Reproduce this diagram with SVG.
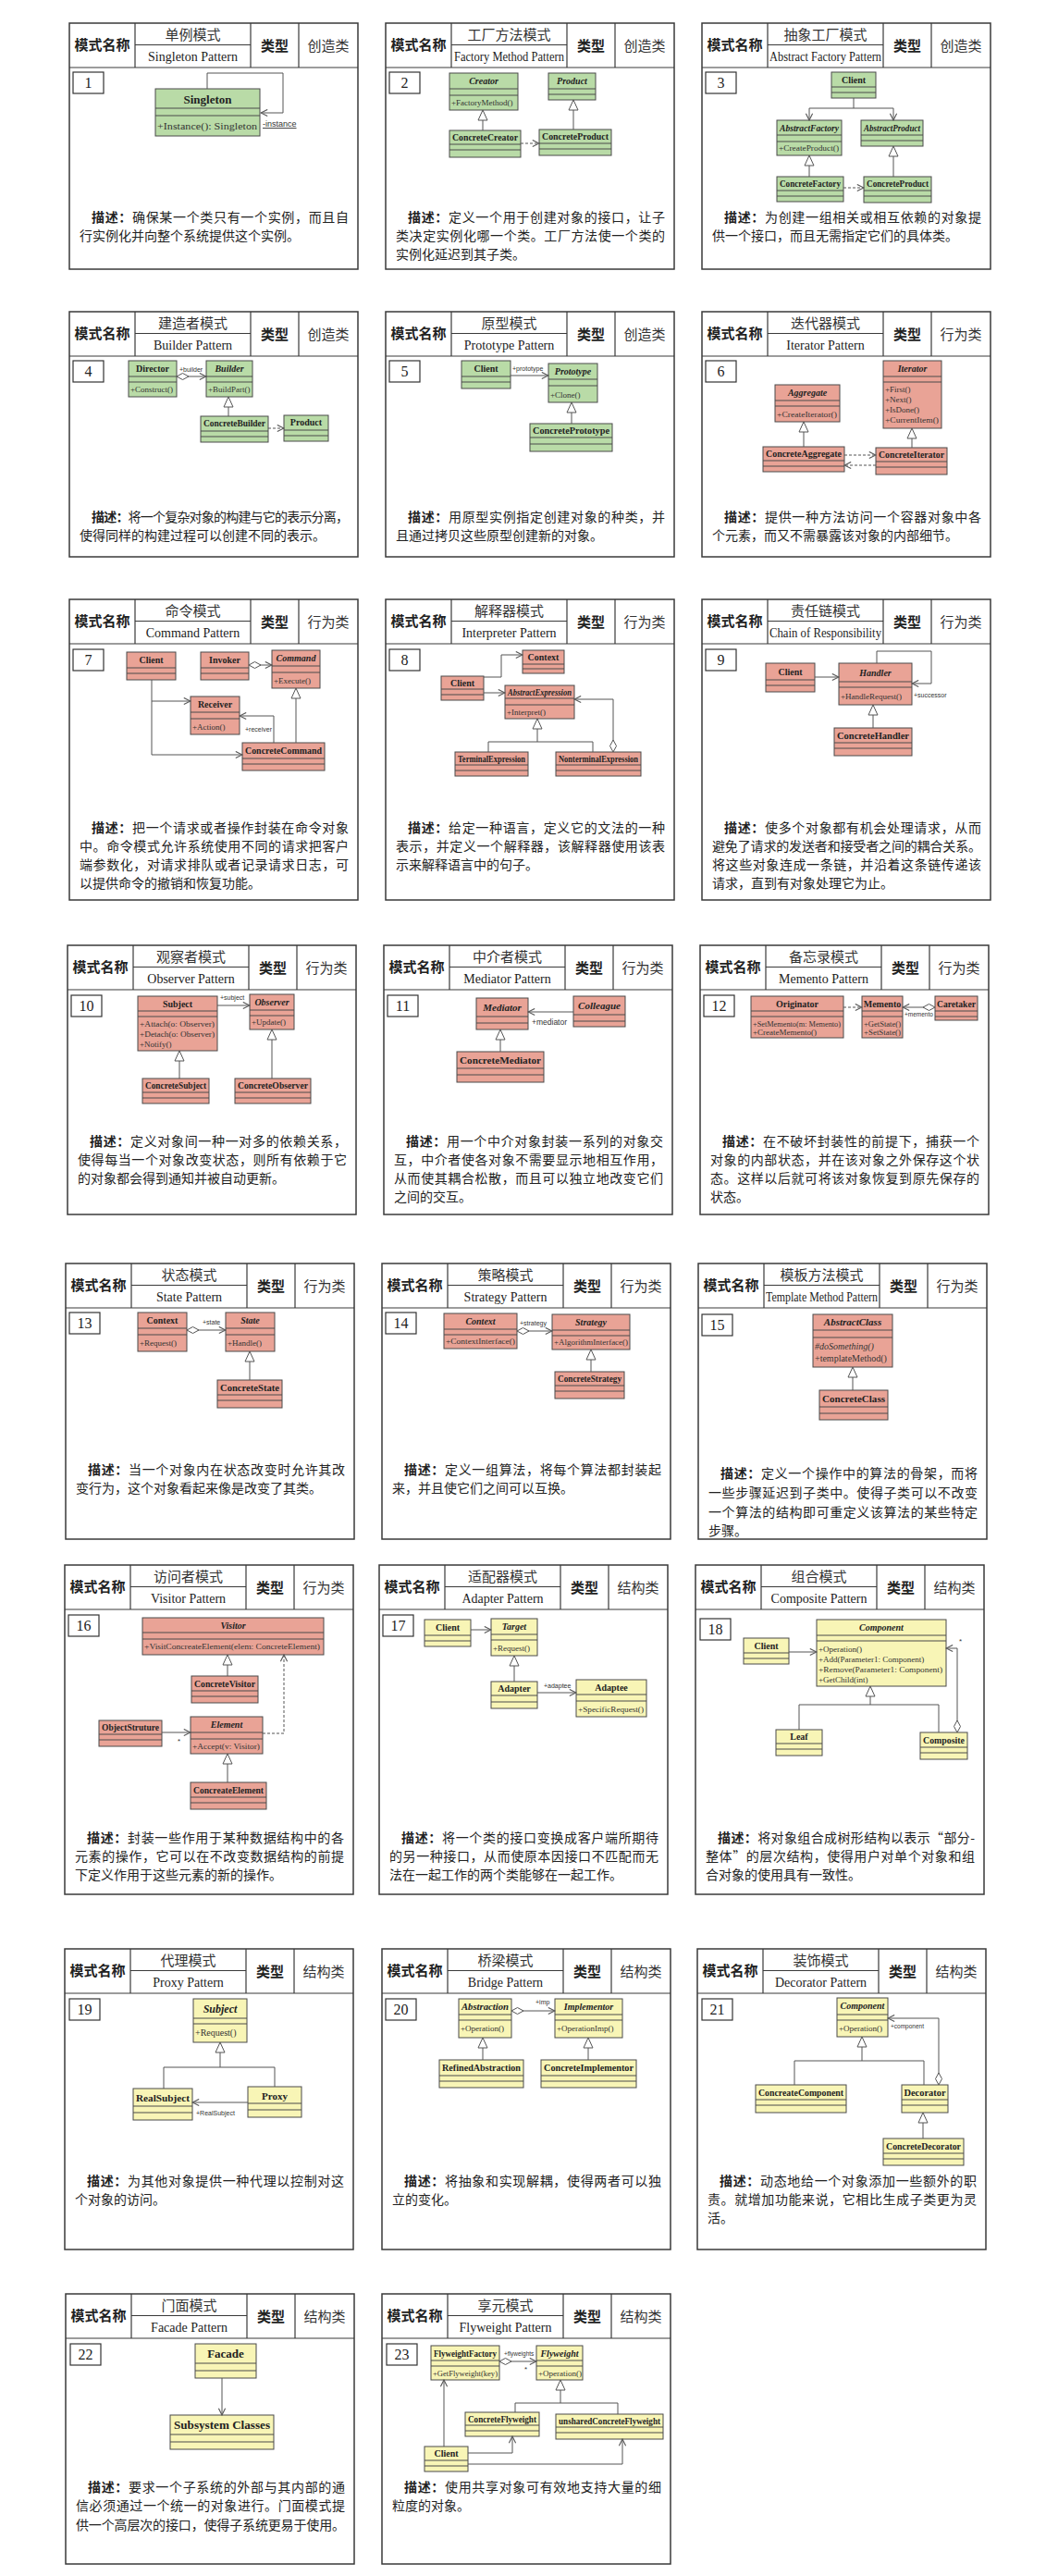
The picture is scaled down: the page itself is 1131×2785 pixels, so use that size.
<svg xmlns="http://www.w3.org/2000/svg" width="1131" height="2785" viewBox="0 0 1131 2785">
<style>
.bg{fill:#fff}
.frame{fill:#fff;stroke:#3a3a3a;stroke-width:1.5}
.hl{stroke:#3a3a3a;stroke-width:1.2;fill:none}
.hb{font-family:"Noto Sans CJK SC",sans-serif;font-size:15px;font-weight:bold;fill:#222;text-anchor:middle}
.hn{font-family:"Noto Sans CJK SC",sans-serif;font-size:15px;fill:#333;text-anchor:middle}
.he{font-family:"Liberation Serif",serif;font-size:14px;fill:#222;text-anchor:middle}
.num rect{fill:#fff;stroke:#333;stroke-width:1.2}
.num text{font-family:"Liberation Serif",serif;font-size:16px;fill:#222;text-anchor:middle}
.desc{font-family:"Noto Sans CJK SC",sans-serif;font-size:14px;fill:#222}
.k{font-weight:bold}
.cls rect{stroke:#4a4a4a;stroke-width:1}
.cls line{stroke:#4a4a4a;stroke-width:1}
.g rect{fill:#b9dba7}
.r rect{fill:#e9a396}
.y rect{fill:#f8f5b6}
.cn{font-family:"Liberation Serif",serif;font-size:10px;font-weight:bold;fill:#222;text-anchor:middle}
.ab{font-style:italic}
.op{font-family:"Liberation Serif",serif;font-size:9px;fill:#333}
.lbl{font-family:"Liberation Sans",sans-serif;font-size:7.5px;fill:#333}
.c{fill:none;stroke:#555;stroke-width:1}
.d{stroke-dasharray:3,2}
.a{marker-end:url(#arr)}
.t{marker-end:url(#tri)}
.dm{marker-start:url(#dia)}
</style>
<defs>
<marker id="arr" viewBox="0 0 10 10" refX="9" refY="5" markerWidth="9" markerHeight="9" markerUnits="userSpaceOnUse" orient="auto"><path d="M1,1 L9,5 L1,9" fill="none" stroke="#555" stroke-width="1.2"/></marker>
<marker id="tri" viewBox="0 0 13 12" refX="12" refY="6" markerWidth="13" markerHeight="12" markerUnits="userSpaceOnUse" orient="auto"><path d="M1,1 L12,6 L1,11 Z" fill="#fff" stroke="#555" stroke-width="1"/></marker>
<marker id="dia" viewBox="0 0 14 8" refX="0.5" refY="4" markerWidth="14" markerHeight="8" markerUnits="userSpaceOnUse" orient="auto"><path d="M0.5,4 L7,0.5 L13.5,4 L7,7.5 Z" fill="#fff" stroke="#555" stroke-width="1"/></marker>
</defs>
<rect class="bg" x="0" y="0" width="1131" height="2785"/>

<!-- ================= ROW 1 ================= -->
<g id="card1">
<rect class="frame" x="75" y="25" width="312" height="266"/>
<path class="hl" d="M75,73 H387 M146,25 V73 M271,25 V73 M323,25 V73 M146,48.5 H271"/>
<text class="hb" x="110.5" y="54">模式名称</text><text class="hn" x="208.5" y="43">单例模式</text><text class="he" x="208.5" y="66">Singleton Pattern</text><text class="hb" x="297" y="55">类型</text><text class="hn" x="355" y="55">创造类</text>
<g class="num"><rect x="79" y="78" width="33" height="23"/><text x="95.5" y="95">1</text></g>
<text class="desc" x="99" y="240" textLength="278"><tspan class="k">描述：</tspan>确保某一个类只有一个实例，而且自</text>
<text class="desc" x="86" y="260">行实例化并向整个系统提供这个实例。</text>
</g>
<g id="card2">
<rect class="frame" x="417" y="25" width="312" height="266"/>
<path class="hl" d="M417,73 H729 M488,25 V73 M613,25 V73 M665,25 V73 M488,48.5 H613"/>
<text class="hb" x="452.5" y="54">模式名称</text><text class="hn" x="550.5" y="43">工厂方法模式</text><text class="he" x="550.5" y="66" textLength="119" lengthAdjust="spacingAndGlyphs">Factory Method Pattern</text><text class="hb" x="639" y="55">类型</text><text class="hn" x="697" y="55">创造类</text>
<g class="num"><rect x="421" y="78" width="33" height="23"/><text x="437.5" y="95">2</text></g>
<text class="desc" x="441" y="240" textLength="278"><tspan class="k">描述：</tspan>定义一个用于创建对象的接口，让子</text>
<text class="desc" x="428" y="260" textLength="291">类决定实例化哪一个类。工厂方法使一个类的</text>
<text class="desc" x="428" y="280">实例化延迟到其子类。</text>
</g>
<g id="card3">
<rect class="frame" x="759" y="25" width="312" height="266"/>
<path class="hl" d="M759,73 H1071 M830,25 V73 M955,25 V73 M1007,25 V73 M830,48.5 H955"/>
<text class="hb" x="794.5" y="54">模式名称</text><text class="hn" x="892.5" y="43">抽象工厂模式</text><text class="he" x="892.5" y="66" textLength="121" lengthAdjust="spacingAndGlyphs">Abstract Factory Pattern</text><text class="hb" x="981" y="55">类型</text><text class="hn" x="1039" y="55">创造类</text>
<g class="num"><rect x="763" y="78" width="33" height="23"/><text x="779.5" y="95">3</text></g>
<text class="desc" x="783" y="240" textLength="278"><tspan class="k">描述：</tspan>为创建一组相关或相互依赖的对象提</text>
<text class="desc" x="770" y="260">供一个接口，而且无需指定它们的具体类。</text>
</g>

<!-- ================= ROW 2 ================= -->
<g id="card4">
<rect class="frame" x="75" y="337" width="312" height="265"/>
<path class="hl" d="M75,385 H387 M146,337 V385 M271,337 V385 M323,337 V385 M146,360.5 H271"/>
<text class="hb" x="110.5" y="366">模式名称</text><text class="hn" x="208.5" y="355">建造者模式</text><text class="he" x="208.5" y="378">Builder Pattern</text><text class="hb" x="297" y="367">类型</text><text class="hn" x="355" y="367">创造类</text>
<g class="num"><rect x="79" y="390" width="33" height="23"/><text x="95.5" y="407">4</text></g>
<text class="desc" x="99" y="564" textLength="278"><tspan class="k">描述：</tspan>将一个复杂对象的构建与它的表示分离，</text>
<text class="desc" x="86" y="584">使得同样的构建过程可以创建不同的表示。</text>
</g>
<g id="card5">
<rect class="frame" x="417" y="337" width="312" height="265"/>
<path class="hl" d="M417,385 H729 M488,337 V385 M613,337 V385 M665,337 V385 M488,360.5 H613"/>
<text class="hb" x="452.5" y="366">模式名称</text><text class="hn" x="550.5" y="355">原型模式</text><text class="he" x="550.5" y="378">Prototype Pattern</text><text class="hb" x="639" y="367">类型</text><text class="hn" x="697" y="367">创造类</text>
<g class="num"><rect x="421" y="390" width="33" height="23"/><text x="437.5" y="407">5</text></g>
<text class="desc" x="441" y="564" textLength="278"><tspan class="k">描述：</tspan>用原型实例指定创建对象的种类，并</text>
<text class="desc" x="428" y="584">且通过拷贝这些原型创建新的对象。</text>
</g>
<g id="card6">
<rect class="frame" x="759" y="337" width="312" height="265"/>
<path class="hl" d="M759,385 H1071 M830,337 V385 M955,337 V385 M1007,337 V385 M830,360.5 H955"/>
<text class="hb" x="794.5" y="366">模式名称</text><text class="hn" x="892.5" y="355">迭代器模式</text><text class="he" x="892.5" y="378">Iterator Pattern</text><text class="hb" x="981" y="367">类型</text><text class="hn" x="1039" y="367">行为类</text>
<g class="num"><rect x="763" y="390" width="33" height="23"/><text x="779.5" y="407">6</text></g>
<text class="desc" x="783" y="564" textLength="278"><tspan class="k">描述：</tspan>提供一种方法访问一个容器对象中各</text>
<text class="desc" x="770" y="584">个元素，而又不需暴露该对象的内部细节。</text>
</g>

<!-- ================= ROW 3 ================= -->
<g id="card7">
<rect class="frame" x="75" y="648" width="312" height="325"/>
<path class="hl" d="M75,696 H387 M146,648 V696 M271,648 V696 M323,648 V696 M146,671.5 H271"/>
<text class="hb" x="110.5" y="677">模式名称</text><text class="hn" x="208.5" y="666">命令模式</text><text class="he" x="208.5" y="689">Command Pattern</text><text class="hb" x="297" y="678">类型</text><text class="hn" x="355" y="678">行为类</text>
<g class="num"><rect x="79" y="702" width="33" height="23"/><text x="95.5" y="719">7</text></g>
<text class="desc" x="99" y="900" textLength="278"><tspan class="k">描述：</tspan>把一个请求或者操作封装在命令对象</text>
<text class="desc" x="86" y="920" textLength="291">中。命令模式允许系统使用不同的请求把客户</text>
<text class="desc" x="86" y="940" textLength="291">端参数化，对请求排队或者记录请求日志，可</text>
<text class="desc" x="86" y="960">以提供命令的撤销和恢复功能。</text>
</g>
<g id="card8">
<rect class="frame" x="417" y="648" width="312" height="325"/>
<path class="hl" d="M417,696 H729 M488,648 V696 M613,648 V696 M665,648 V696 M488,671.5 H613"/>
<text class="hb" x="452.5" y="677">模式名称</text><text class="hn" x="550.5" y="666">解释器模式</text><text class="he" x="550.5" y="689">Interpreter Pattern</text><text class="hb" x="639" y="678">类型</text><text class="hn" x="697" y="678">行为类</text>
<g class="num"><rect x="421" y="702" width="33" height="23"/><text x="437.5" y="719">8</text></g>
<text class="desc" x="441" y="900" textLength="278"><tspan class="k">描述：</tspan>给定一种语言，定义它的文法的一种</text>
<text class="desc" x="428" y="920" textLength="291">表示，并定义一个解释器，该解释器使用该表</text>
<text class="desc" x="428" y="940">示来解释语言中的句子。</text>
</g>
<g id="card9">
<rect class="frame" x="759" y="648" width="312" height="325"/>
<path class="hl" d="M759,696 H1071 M830,648 V696 M955,648 V696 M1007,648 V696 M830,671.5 H955"/>
<text class="hb" x="794.5" y="677">模式名称</text><text class="hn" x="892.5" y="666">责任链模式</text><text class="he" x="892.5" y="689" textLength="121" lengthAdjust="spacingAndGlyphs">Chain of Responsibility</text><text class="hb" x="981" y="678">类型</text><text class="hn" x="1039" y="678">行为类</text>
<g class="num"><rect x="763" y="702" width="33" height="23"/><text x="779.5" y="719">9</text></g>
<text class="desc" x="783" y="900" textLength="278"><tspan class="k">描述：</tspan>使多个对象都有机会处理请求，从而</text>
<text class="desc" x="770" y="920" textLength="291">避免了请求的发送者和接受者之间的耦合关系。</text>
<text class="desc" x="770" y="940" textLength="291">将这些对象连成一条链，并沿着这条链传递该</text>
<text class="desc" x="770" y="960">请求，直到有对象处理它为止。</text>
</g>

<!-- ================= ROW 4 ================= -->
<g id="card10">
<rect class="frame" x="73" y="1022" width="312" height="291"/>
<path class="hl" d="M73,1070 H385 M144,1022 V1070 M269,1022 V1070 M321,1022 V1070 M144,1045.5 H269"/>
<text class="hb" x="108.5" y="1051">模式名称</text><text class="hn" x="206.5" y="1040">观察者模式</text><text class="he" x="206.5" y="1063">Observer Pattern</text><text class="hb" x="295" y="1052">类型</text><text class="hn" x="353" y="1052">行为类</text>
<g class="num"><rect x="77" y="1076" width="33" height="23"/><text x="93.5" y="1093">10</text></g>
<text class="desc" x="97" y="1239" textLength="278"><tspan class="k">描述：</tspan>定义对象间一种一对多的依赖关系，</text>
<text class="desc" x="84" y="1259" textLength="291">使得每当一个对象改变状态，则所有依赖于它</text>
<text class="desc" x="84" y="1279">的对象都会得到通知并被自动更新。</text>
</g>
<g id="card11">
<rect class="frame" x="415" y="1022" width="312" height="291"/>
<path class="hl" d="M415,1070 H727 M486,1022 V1070 M611,1022 V1070 M663,1022 V1070 M486,1045.5 H611"/>
<text class="hb" x="450.5" y="1051">模式名称</text><text class="hn" x="548.5" y="1040">中介者模式</text><text class="he" x="548.5" y="1063">Mediator Pattern</text><text class="hb" x="637" y="1052">类型</text><text class="hn" x="695" y="1052">行为类</text>
<g class="num"><rect x="419" y="1076" width="33" height="23"/><text x="435.5" y="1093">11</text></g>
<text class="desc" x="439" y="1239" textLength="278"><tspan class="k">描述：</tspan>用一个中介对象封装一系列的对象交</text>
<text class="desc" x="426" y="1259" textLength="291">互，中介者使各对象不需要显示地相互作用，</text>
<text class="desc" x="426" y="1279" textLength="291">从而使其耦合松散，而且可以独立地改变它们</text>
<text class="desc" x="426" y="1299">之间的交互。</text>
</g>
<g id="card12">
<rect class="frame" x="757" y="1022" width="312" height="291"/>
<path class="hl" d="M757,1070 H1069 M828,1022 V1070 M953,1022 V1070 M1005,1022 V1070 M828,1045.5 H953"/>
<text class="hb" x="792.5" y="1051">模式名称</text><text class="hn" x="890.5" y="1040">备忘录模式</text><text class="he" x="890.5" y="1063">Memento Pattern</text><text class="hb" x="979" y="1052">类型</text><text class="hn" x="1037" y="1052">行为类</text>
<g class="num"><rect x="761" y="1076" width="33" height="23"/><text x="777.5" y="1093">12</text></g>
<text class="desc" x="781" y="1239" textLength="278"><tspan class="k">描述：</tspan>在不破坏封装性的前提下，捕获一个</text>
<text class="desc" x="768" y="1259" textLength="291">对象的内部状态，并在该对象之外保存这个状</text>
<text class="desc" x="768" y="1279" textLength="291">态。这样以后就可将该对象恢复到原先保存的</text>
<text class="desc" x="768" y="1299">状态。</text>
</g>

<!-- ================= ROW 5 ================= -->
<g id="card13">
<rect class="frame" x="71" y="1366" width="312" height="298"/>
<path class="hl" d="M71,1414 H383 M142,1366 V1414 M267,1366 V1414 M319,1366 V1414 M142,1389.5 H267"/>
<text class="hb" x="106.5" y="1395">模式名称</text><text class="hn" x="204.5" y="1384">状态模式</text><text class="he" x="204.5" y="1407">State Pattern</text><text class="hb" x="293" y="1396">类型</text><text class="hn" x="351" y="1396">行为类</text>
<g class="num"><rect x="75" y="1419" width="33" height="23"/><text x="91.5" y="1436">13</text></g>
<text class="desc" x="95" y="1594" textLength="278"><tspan class="k">描述：</tspan>当一个对象内在状态改变时允许其改</text>
<text class="desc" x="82" y="1614">变行为，这个对象看起来像是改变了其类。</text>
</g>
<g id="card14">
<rect class="frame" x="413" y="1366" width="312" height="298"/>
<path class="hl" d="M413,1414 H725 M484,1366 V1414 M609,1366 V1414 M661,1366 V1414 M484,1389.5 H609"/>
<text class="hb" x="448.5" y="1395">模式名称</text><text class="hn" x="546.5" y="1384">策略模式</text><text class="he" x="546.5" y="1407">Strategy Pattern</text><text class="hb" x="635" y="1396">类型</text><text class="hn" x="693" y="1396">行为类</text>
<g class="num"><rect x="417" y="1419" width="33" height="23"/><text x="433.5" y="1436">14</text></g>
<text class="desc" x="437" y="1594" textLength="278"><tspan class="k">描述：</tspan>定义一组算法，将每个算法都封装起</text>
<text class="desc" x="424" y="1614">来，并且使它们之间可以互换。</text>
</g>
<g id="card15">
<rect class="frame" x="755" y="1366" width="312" height="298"/>
<path class="hl" d="M755,1414 H1067 M826,1366 V1414 M951,1366 V1414 M1003,1366 V1414 M826,1389.5 H951"/>
<text class="hb" x="790.5" y="1395">模式名称</text><text class="hn" x="888.5" y="1384">模板方法模式</text><text class="he" x="888.5" y="1407" textLength="121" lengthAdjust="spacingAndGlyphs">Template Method Pattern</text><text class="hb" x="977" y="1396">类型</text><text class="hn" x="1035" y="1396">行为类</text>
<g class="num"><rect x="759" y="1421" width="33" height="23"/><text x="775.5" y="1438">15</text></g>
<text class="desc" x="779" y="1598" textLength="278"><tspan class="k">描述：</tspan>定义一个操作中的算法的骨架，而将</text>
<text class="desc" x="766" y="1619" textLength="291">一些步骤延迟到子类中。使得子类可以不改变</text>
<text class="desc" x="766" y="1640" textLength="291">一个算法的结构即可重定义该算法的某些特定</text>
<text class="desc" x="766" y="1660">步骤。</text>
</g>

<!-- ================= ROW 6 ================= -->
<g id="card16">
<rect class="frame" x="70" y="1692" width="312" height="356"/>
<path class="hl" d="M70,1740 H382 M141,1692 V1740 M266,1692 V1740 M318,1692 V1740 M141,1715.5 H266"/>
<text class="hb" x="105.5" y="1721">模式名称</text><text class="hn" x="203.5" y="1710">访问者模式</text><text class="he" x="203.5" y="1733">Visitor Pattern</text><text class="hb" x="292" y="1722">类型</text><text class="hn" x="350" y="1722">行为类</text>
<g class="num"><rect x="74" y="1746" width="33" height="23"/><text x="90.5" y="1763">16</text></g>
<text class="desc" x="94" y="1992" textLength="278"><tspan class="k">描述：</tspan>封装一些作用于某种数据结构中的各</text>
<text class="desc" x="81" y="2012" textLength="291">元素的操作，它可以在不改变数据结构的前提</text>
<text class="desc" x="81" y="2032">下定义作用于这些元素的新的操作。</text>
</g>
<g id="card17">
<rect class="frame" x="410" y="1692" width="312" height="356"/>
<path class="hl" d="M410,1740 H722 M481,1692 V1740 M606,1692 V1740 M658,1692 V1740 M481,1715.5 H606"/>
<text class="hb" x="445.5" y="1721">模式名称</text><text class="hn" x="543.5" y="1710">适配器模式</text><text class="he" x="543.5" y="1733">Adapter Pattern</text><text class="hb" x="632" y="1722">类型</text><text class="hn" x="690" y="1722">结构类</text>
<g class="num"><rect x="414" y="1746" width="33" height="23"/><text x="430.5" y="1763">17</text></g>
<text class="desc" x="434" y="1992" textLength="278"><tspan class="k">描述：</tspan>将一个类的接口变换成客户端所期待</text>
<text class="desc" x="421" y="2012" textLength="291">的另一种接口，从而使原本因接口不匹配而无</text>
<text class="desc" x="421" y="2032">法在一起工作的两个类能够在一起工作。</text>
</g>
<g id="card18">
<rect class="frame" x="752" y="1692" width="312" height="356"/>
<path class="hl" d="M752,1740 H1064 M823,1692 V1740 M948,1692 V1740 M1000,1692 V1740 M823,1715.5 H948"/>
<text class="hb" x="787.5" y="1721">模式名称</text><text class="hn" x="885.5" y="1710">组合模式</text><text class="he" x="885.5" y="1733">Composite Pattern</text><text class="hb" x="974" y="1722">类型</text><text class="hn" x="1032" y="1722">结构类</text>
<g class="num"><rect x="757" y="1750" width="33" height="23"/><text x="773.5" y="1767">18</text></g>
<text class="desc" x="776" y="1992" textLength="278"><tspan class="k">描述：</tspan>将对象组合成树形结构以表示“部分-</text>
<text class="desc" x="763" y="2012" textLength="291">整体”的层次结构，使得用户对单个对象和组</text>
<text class="desc" x="763" y="2032">合对象的使用具有一致性。</text>
</g>

<!-- ================= ROW 7 ================= -->
<g id="card19">
<rect class="frame" x="70" y="2107" width="312" height="325"/>
<path class="hl" d="M70,2155 H382 M141,2107 V2155 M266,2107 V2155 M318,2107 V2155 M141,2130.5 H266"/>
<text class="hb" x="105.5" y="2136">模式名称</text><text class="hn" x="203.5" y="2125">代理模式</text><text class="he" x="203.5" y="2148">Proxy Pattern</text><text class="hb" x="292" y="2137">类型</text><text class="hn" x="350" y="2137">结构类</text>
<g class="num"><rect x="75" y="2161" width="33" height="23"/><text x="91.5" y="2178">19</text></g>
<text class="desc" x="94" y="2363" textLength="278"><tspan class="k">描述：</tspan>为其他对象提供一种代理以控制对这</text>
<text class="desc" x="81" y="2383">个对象的访问。</text>
</g>
<g id="card20">
<rect class="frame" x="413" y="2107" width="312" height="325"/>
<path class="hl" d="M413,2155 H725 M484,2107 V2155 M609,2107 V2155 M661,2107 V2155 M484,2130.5 H609"/>
<text class="hb" x="448.5" y="2136">模式名称</text><text class="hn" x="546.5" y="2125">桥梁模式</text><text class="he" x="546.5" y="2148">Bridge Pattern</text><text class="hb" x="635" y="2137">类型</text><text class="hn" x="693" y="2137">结构类</text>
<g class="num"><rect x="417" y="2161" width="33" height="23"/><text x="433.5" y="2178">20</text></g>
<text class="desc" x="437" y="2363" textLength="278"><tspan class="k">描述：</tspan>将抽象和实现解耦，使得两者可以独</text>
<text class="desc" x="424" y="2383">立的变化。</text>
</g>
<g id="card21">
<rect class="frame" x="754" y="2107" width="312" height="325"/>
<path class="hl" d="M754,2155 H1066 M825,2107 V2155 M950,2107 V2155 M1002,2107 V2155 M825,2130.5 H950"/>
<text class="hb" x="789.5" y="2136">模式名称</text><text class="hn" x="887.5" y="2125">装饰模式</text><text class="he" x="887.5" y="2148">Decorator Pattern</text><text class="hb" x="976" y="2137">类型</text><text class="hn" x="1034" y="2137">结构类</text>
<g class="num"><rect x="759" y="2161" width="33" height="23"/><text x="775.5" y="2178">21</text></g>
<text class="desc" x="778" y="2363" textLength="278"><tspan class="k">描述：</tspan>动态地给一个对象添加一些额外的职</text>
<text class="desc" x="765" y="2383" textLength="291">责。就增加功能来说，它相比生成子类更为灵</text>
<text class="desc" x="765" y="2403">活。</text>
</g>

<!-- ================= ROW 8 ================= -->
<g id="card22">
<rect class="frame" x="71" y="2480" width="312" height="292"/>
<path class="hl" d="M71,2528 H383 M142,2480 V2528 M267,2480 V2528 M319,2480 V2528 M142,2503.5 H267"/>
<text class="hb" x="106.5" y="2509">模式名称</text><text class="hn" x="204.5" y="2498">门面模式</text><text class="he" x="204.5" y="2521">Facade Pattern</text><text class="hb" x="293" y="2510">类型</text><text class="hn" x="351" y="2510">结构类</text>
<g class="num"><rect x="76" y="2534" width="33" height="23"/><text x="92.5" y="2551">22</text></g>
<text class="desc" x="95" y="2694" textLength="278"><tspan class="k">描述：</tspan>要求一个子系统的外部与其内部的通</text>
<text class="desc" x="82" y="2714" textLength="291">信必须通过一个统一的对象进行。门面模式提</text>
<text class="desc" x="82" y="2735" textLength="291">供一个高层次的接口，使得子系统更易于使用。</text>
</g>
<g id="card23">
<rect class="frame" x="413" y="2480" width="312" height="292"/>
<path class="hl" d="M413,2528 H725 M484,2480 V2528 M609,2480 V2528 M661,2480 V2528 M484,2503.5 H609"/>
<text class="hb" x="448.5" y="2509">模式名称</text><text class="hn" x="546.5" y="2498">享元模式</text><text class="he" x="546.5" y="2521">Flyweight Pattern</text><text class="hb" x="635" y="2510">类型</text><text class="hn" x="693" y="2510">结构类</text>
<g class="num"><rect x="418" y="2534" width="33" height="23"/><text x="434.5" y="2551">23</text></g>
<text class="desc" x="437" y="2694" textLength="278"><tspan class="k">描述：</tspan>使用共享对象可有效地支持大量的细</text>
<text class="desc" x="424" y="2714">粒度的对象。</text>
</g>

<!-- ================= CLASS NODES ================= -->
<!-- 1 Singleton -->
<g id="n1-singleton" class="cls g"><rect x="168" y="96" width="113" height="51"/><line x1="168" y1="117" x2="281" y2="117"/><line x1="168" y1="125" x2="281" y2="125"/><text class="cn" x="224.5" y="111.5" style="font-size:13px">Singleton</text><text class="op" x="170" y="140" style="font-size:11px" textLength="108" lengthAdjust="spacingAndGlyphs">+Instance(): Singleton</text></g>
<!-- 2 Factory method -->
<g id="n2-creator" class="cls g"><rect x="486" y="79" width="74" height="40"/><line x1="486" y1="96" x2="560" y2="96"/><line x1="486" y1="103" x2="560" y2="103"/><text class="cn ab" x="523" y="91">Creator</text><text class="op" x="488" y="114">+FactoryMethod()</text></g>
<g id="n2-product" class="cls g"><rect x="593" y="79" width="51" height="29"/><line x1="593" y1="96" x2="644" y2="96"/><line x1="593" y1="102" x2="644" y2="102"/><text class="cn ab" x="618.5" y="91">Product</text></g>
<g id="n2-concretecreator" class="cls g"><rect x="486" y="141" width="77" height="29"/><line x1="486" y1="156" x2="563" y2="156"/><line x1="486" y1="162" x2="563" y2="162"/><text class="cn" x="524.5" y="152" textLength="71" lengthAdjust="spacingAndGlyphs">ConcreteCreator</text></g>
<g id="n2-concreteproduct" class="cls g"><rect x="583" y="140" width="78" height="28"/><line x1="583" y1="155" x2="661" y2="155"/><line x1="583" y1="161" x2="661" y2="161"/><text class="cn" x="622" y="151" textLength="72" lengthAdjust="spacingAndGlyphs">ConcreteProduct</text></g>
<!-- 3 Abstract factory -->
<g id="n3-client" class="cls g"><rect x="899" y="78" width="48" height="28"/><line x1="899" y1="94" x2="947" y2="94"/><line x1="899" y1="100" x2="947" y2="100"/><text class="cn" x="923" y="90">Client</text></g>
<g id="n3-abstractfactory" class="cls g"><rect x="840" y="130" width="70" height="38"/><line x1="840" y1="146" x2="910" y2="146"/><line x1="840" y1="153" x2="910" y2="153"/><text class="cn ab" x="875" y="142" textLength="64" lengthAdjust="spacingAndGlyphs">AbstractFactory</text><text class="op" x="842" y="163" textLength="65" lengthAdjust="spacingAndGlyphs">+CreateProduct()</text></g>
<g id="n3-abstractproduct" class="cls g"><rect x="931" y="130" width="67" height="28"/><line x1="931" y1="146" x2="998" y2="146"/><line x1="931" y1="152" x2="998" y2="152"/><text class="cn ab" x="964.5" y="142" textLength="61" lengthAdjust="spacingAndGlyphs">AbstractProduct</text></g>
<g id="n3-concretefactory" class="cls g"><rect x="840" y="191" width="72" height="27"/><line x1="840" y1="206" x2="912" y2="206"/><line x1="840" y1="212" x2="912" y2="212"/><text class="cn" x="876" y="202" textLength="66" lengthAdjust="spacingAndGlyphs">ConcreteFactory</text></g>
<g id="n3-concreteproduct" class="cls g"><rect x="934" y="191" width="73" height="28"/><line x1="934" y1="206" x2="1007" y2="206"/><line x1="934" y1="212" x2="1007" y2="212"/><text class="cn" x="970.5" y="202" textLength="67" lengthAdjust="spacingAndGlyphs">ConcreteProduct</text></g>
<!-- 4 Builder -->
<g id="n4-director" class="cls g"><rect x="139" y="390" width="52" height="39"/><line x1="139" y1="407" x2="191" y2="407"/><line x1="139" y1="413" x2="191" y2="413"/><text class="cn" x="165" y="402">Director</text><text class="op" x="141" y="424">+Construct()</text></g>
<g id="n4-builder" class="cls g"><rect x="223" y="390" width="50" height="39"/><line x1="223" y1="407" x2="273" y2="407"/><line x1="223" y1="413" x2="273" y2="413"/><text class="cn ab" x="248" y="402">Builder</text><text class="op" x="225" y="424">+BuildPart()</text></g>
<g id="n4-concretebuilder" class="cls g"><rect x="217" y="450" width="73" height="28"/><line x1="217" y1="466" x2="290" y2="466"/><line x1="217" y1="472" x2="290" y2="472"/><text class="cn" x="253.5" y="461" textLength="67" lengthAdjust="spacingAndGlyphs">ConcreteBuilder</text></g>
<g id="n4-product" class="cls g"><rect x="307" y="449" width="48" height="28"/><line x1="307" y1="465" x2="355" y2="465"/><line x1="307" y1="471" x2="355" y2="471"/><text class="cn" x="331" y="460">Product</text></g>
<!-- 5 Prototype -->
<g id="n5-client" class="cls g"><rect x="499" y="390" width="53" height="30"/><line x1="499" y1="407" x2="552" y2="407"/><line x1="499" y1="413" x2="552" y2="413"/><text class="cn" x="525.5" y="402">Client</text></g>
<g id="n5-prototype" class="cls g"><rect x="593" y="393" width="53" height="42"/><line x1="593" y1="410" x2="646" y2="410"/><line x1="593" y1="417" x2="646" y2="417"/><text class="cn ab" x="619.5" y="405">Prototype</text><text class="op" x="595" y="430">+Clone()</text></g>
<g id="n5-concreteprototype" class="cls g"><rect x="573" y="458" width="89" height="30"/><line x1="573" y1="473" x2="662" y2="473"/><line x1="573" y1="480" x2="662" y2="480"/><text class="cn" x="617.5" y="469" textLength="83" lengthAdjust="spacingAndGlyphs">ConcretePrototype</text></g>
<!-- 6 Iterator -->
<g id="n6-iterator" class="cls r"><rect x="955" y="390" width="63" height="73"/><line x1="955" y1="407" x2="1018" y2="407"/><line x1="955" y1="413" x2="1018" y2="413"/><text class="cn ab" x="986.5" y="402">Iterator</text><text class="op" x="957" y="424">+First()</text><text class="op" x="957" y="435">+Next()</text><text class="op" x="957" y="446">+IsDone()</text><text class="op" x="957" y="457" textLength="58" lengthAdjust="spacingAndGlyphs">+CurrentItem()</text></g>
<g id="n6-aggregate" class="cls r"><rect x="838" y="416" width="70" height="40"/><line x1="838" y1="433" x2="908" y2="433"/><line x1="838" y1="439" x2="908" y2="439"/><text class="cn ab" x="873" y="428">Aggregate</text><text class="op" x="840" y="451" textLength="65" lengthAdjust="spacingAndGlyphs">+CreateIterator()</text></g>
<g id="n6-concreteaggregate" class="cls r"><rect x="825" y="483" width="88" height="27"/><line x1="825" y1="498" x2="913" y2="498"/><line x1="825" y1="504" x2="913" y2="504"/><text class="cn" x="869" y="494" textLength="82" lengthAdjust="spacingAndGlyphs">ConcreteAggregate</text></g>
<g id="n6-concreteiterator" class="cls r"><rect x="947" y="484" width="77" height="29"/><line x1="947" y1="499" x2="1024" y2="499"/><line x1="947" y1="505" x2="1024" y2="505"/><text class="cn" x="985.5" y="495" textLength="71" lengthAdjust="spacingAndGlyphs">ConcreteIterator</text></g>
<!-- 7 Command -->
<g id="n7-client" class="cls r"><rect x="137" y="705" width="53" height="30"/><line x1="137" y1="722" x2="190" y2="722"/><line x1="137" y1="728" x2="190" y2="728"/><text class="cn" x="163.5" y="717">Client</text></g>
<g id="n7-invoker" class="cls r"><rect x="217" y="705" width="52" height="30"/><line x1="217" y1="722" x2="269" y2="722"/><line x1="217" y1="728" x2="269" y2="728"/><text class="cn" x="243" y="717">Invoker</text></g>
<g id="n7-command" class="cls r"><rect x="294" y="703" width="52" height="41"/><line x1="294" y1="720" x2="346" y2="720"/><line x1="294" y1="727" x2="346" y2="727"/><text class="cn ab" x="320" y="715">Command</text><text class="op" x="296" y="739">+Execute()</text></g>
<g id="n7-receiver" class="cls r"><rect x="206" y="753" width="53" height="41"/><line x1="206" y1="770" x2="259" y2="770"/><line x1="206" y1="777" x2="259" y2="777"/><text class="cn" x="232.5" y="765">Receiver</text><text class="op" x="208" y="789">+Action()</text></g>
<g id="n7-concretecommand" class="cls r"><rect x="262" y="803" width="89" height="30"/><line x1="262" y1="820" x2="351" y2="820"/><line x1="262" y1="826" x2="351" y2="826"/><text class="cn" x="306.5" y="815" textLength="83" lengthAdjust="spacingAndGlyphs">ConcreteCommand</text></g>
<!-- 8 Interpreter -->
<g id="n8-context" class="cls r"><rect x="565" y="703" width="45" height="25"/><line x1="565" y1="718" x2="610" y2="718"/><line x1="565" y1="723" x2="610" y2="723"/><text class="cn" x="587.5" y="714">Context</text></g>
<g id="n8-client" class="cls r"><rect x="477" y="731" width="46" height="26"/><line x1="477" y1="745" x2="523" y2="745"/><line x1="477" y1="751" x2="523" y2="751"/><text class="cn" x="500" y="742">Client</text></g>
<g id="n8-abstractexpression" class="cls r"><rect x="546" y="741" width="75" height="36"/><line x1="546" y1="755" x2="621" y2="755"/><line x1="546" y1="762" x2="621" y2="762"/><text class="cn ab" x="583.5" y="752" textLength="69" lengthAdjust="spacingAndGlyphs">AbstractExpression</text><text class="op" x="548" y="773">+Interpret()</text></g>
<g id="n8-terminalexpression" class="cls r"><rect x="492" y="813" width="79" height="26"/><line x1="492" y1="827" x2="571" y2="827"/><line x1="492" y1="833" x2="571" y2="833"/><text class="cn" x="531.5" y="824" textLength="73" lengthAdjust="spacingAndGlyphs">TerminalExpression</text></g>
<g id="n8-nonterminalexpression" class="cls r"><rect x="601" y="813" width="92" height="26"/><line x1="601" y1="827" x2="693" y2="827"/><line x1="601" y1="833" x2="693" y2="833"/><text class="cn" x="647" y="824" textLength="86" lengthAdjust="spacingAndGlyphs">NonterminalExpression</text></g>
<!-- 9 Chain -->
<g id="n9-client" class="cls r"><rect x="828" y="717" width="53" height="31"/><line x1="828" y1="735" x2="881" y2="735"/><line x1="828" y1="741" x2="881" y2="741"/><text class="cn" x="854.5" y="730">Client</text></g>
<g id="n9-handler" class="cls r"><rect x="907" y="717" width="79" height="45"/><line x1="907" y1="737" x2="986" y2="737"/><line x1="907" y1="743" x2="986" y2="743"/><text class="cn ab" x="946.5" y="731">Handler</text><text class="op" x="909" y="756">+HandleRequest()</text></g>
<g id="n9-concretehandler" class="cls r"><rect x="902" y="787" width="84" height="30"/><line x1="902" y1="803" x2="986" y2="803"/><line x1="902" y1="809" x2="986" y2="809"/><text class="cn" x="944" y="799" textLength="78" lengthAdjust="spacingAndGlyphs">ConcreteHandler</text></g>
<!-- 10 Observer -->
<g id="n10-subject" class="cls r"><rect x="149" y="1077" width="86" height="59"/><line x1="149" y1="1093" x2="235" y2="1093"/><line x1="149" y1="1099" x2="235" y2="1099"/><text class="cn" x="192" y="1089">Subject</text><text class="op" x="151" y="1110" textLength="81" lengthAdjust="spacingAndGlyphs">+Attach(o: Observer)</text><text class="op" x="151" y="1121" textLength="81" lengthAdjust="spacingAndGlyphs">+Detach(o: Observer)</text><text class="op" x="151" y="1132">+Notify()</text></g>
<g id="n10-observer" class="cls r"><rect x="270" y="1075" width="48" height="38"/><line x1="270" y1="1092" x2="318" y2="1092"/><line x1="270" y1="1098" x2="318" y2="1098"/><text class="cn ab" x="294" y="1087">Observer</text><text class="op" x="272" y="1108">+Update()</text></g>
<g id="n10-concretesubject" class="cls r"><rect x="154" y="1166" width="72" height="27"/><line x1="154" y1="1181" x2="226" y2="1181"/><line x1="154" y1="1187" x2="226" y2="1187"/><text class="cn" x="190" y="1177" textLength="66" lengthAdjust="spacingAndGlyphs">ConcreteSubject</text></g>
<g id="n10-concreteobserver" class="cls r"><rect x="254" y="1166" width="82" height="27"/><line x1="254" y1="1181" x2="336" y2="1181"/><line x1="254" y1="1187" x2="336" y2="1187"/><text class="cn" x="295" y="1177" textLength="76" lengthAdjust="spacingAndGlyphs">ConcreteObserver</text></g>
<!-- 11 Mediator -->
<g id="n11-mediator" class="cls r"><rect x="515" y="1079" width="56" height="34"/><line x1="515" y1="1099" x2="571" y2="1099"/><line x1="515" y1="1106" x2="571" y2="1106"/><text class="cn ab" x="543" y="1093" style="font-size:11px">Mediator</text></g>
<g id="n11-colleague" class="cls r"><rect x="620" y="1077" width="56" height="33"/><line x1="620" y1="1097" x2="676" y2="1097"/><line x1="620" y1="1104" x2="676" y2="1104"/><text class="cn ab" x="648" y="1091" style="font-size:11px">Colleague</text></g>
<g id="n11-concretemediator" class="cls r"><rect x="494" y="1137" width="94" height="33"/><line x1="494" y1="1155" x2="588" y2="1155"/><line x1="494" y1="1162" x2="588" y2="1162"/><text class="cn" x="541" y="1150" style="font-size:11px" textLength="88" lengthAdjust="spacingAndGlyphs">ConcreteMediator</text></g>
<!-- 12 Memento -->
<g id="n12-originator" class="cls r"><rect x="812" y="1077" width="100" height="45"/><line x1="812" y1="1093" x2="912" y2="1093"/><line x1="812" y1="1099" x2="912" y2="1099"/><text class="cn" x="862" y="1089">Originator</text><text class="op" x="814" y="1110" textLength="95" lengthAdjust="spacingAndGlyphs">+SetMemento(m: Memento)</text><text class="op" x="814" y="1119">+CreateMemento()</text></g>
<g id="n12-memento" class="cls r"><rect x="932" y="1077" width="44" height="45"/><line x1="932" y1="1093" x2="976" y2="1093"/><line x1="932" y1="1099" x2="976" y2="1099"/><text class="cn" x="954" y="1089">Memento</text><text class="op" x="934" y="1110" textLength="40" lengthAdjust="spacingAndGlyphs">+GetState()</text><text class="op" x="934" y="1119" textLength="40" lengthAdjust="spacingAndGlyphs">+SetState()</text></g>
<g id="n12-caretaker" class="cls r"><rect x="1011" y="1077" width="46" height="26"/><line x1="1011" y1="1093" x2="1057" y2="1093"/><line x1="1011" y1="1099" x2="1057" y2="1099"/><text class="cn" x="1034" y="1089" textLength="42" lengthAdjust="spacingAndGlyphs">Caretaker</text></g>
<!-- 13 State -->
<g id="n13-context" class="cls r"><rect x="149" y="1419" width="53" height="42"/><line x1="149" y1="1436" x2="202" y2="1436"/><line x1="149" y1="1443" x2="202" y2="1443"/><text class="cn" x="175.5" y="1431">Context</text><text class="op" x="151" y="1455">+Request()</text></g>
<g id="n13-state" class="cls r"><rect x="244" y="1419" width="53" height="42"/><line x1="244" y1="1436" x2="297" y2="1436"/><line x1="244" y1="1443" x2="297" y2="1443"/><text class="cn ab" x="270.5" y="1431">State</text><text class="op" x="246" y="1455">+Handle()</text></g>
<g id="n13-concretestate" class="cls r"><rect x="235" y="1492" width="70" height="30"/><line x1="235" y1="1508" x2="305" y2="1508"/><line x1="235" y1="1514" x2="305" y2="1514"/><text class="cn" x="270" y="1504" textLength="64" lengthAdjust="spacingAndGlyphs">ConcreteState</text></g>
<!-- 14 Strategy -->
<g id="n14-context" class="cls r"><rect x="480" y="1420" width="79" height="38"/><line x1="480" y1="1437" x2="559" y2="1437"/><line x1="480" y1="1443" x2="559" y2="1443"/><text class="cn ab" x="519.5" y="1432">Context</text><text class="op" x="482" y="1453" textLength="75" lengthAdjust="spacingAndGlyphs">+ContextInterface()</text></g>
<g id="n14-strategy" class="cls r"><rect x="597" y="1421" width="84" height="38"/><line x1="597" y1="1438" x2="681" y2="1438"/><line x1="597" y1="1444" x2="681" y2="1444"/><text class="cn ab" x="639" y="1433">Strategy</text><text class="op" x="599" y="1454" textLength="80" lengthAdjust="spacingAndGlyphs">+AlgorithmInterface()</text></g>
<g id="n14-concretestrategy" class="cls r"><rect x="600" y="1483" width="75" height="29"/><line x1="600" y1="1498" x2="675" y2="1498"/><line x1="600" y1="1504" x2="675" y2="1504"/><text class="cn" x="637.5" y="1494" textLength="69" lengthAdjust="spacingAndGlyphs">ConcreteStrategy</text></g>
<!-- 15 Template -->
<g id="n15-abstractclass" class="cls r"><rect x="879" y="1421" width="86" height="57"/><line x1="879" y1="1438" x2="965" y2="1438"/><line x1="879" y1="1446" x2="965" y2="1446"/><text class="cn ab" x="922" y="1433" style="font-size:11px">AbstractClass</text><text class="op ab" x="881" y="1459" style="font-size:10px">#doSomething()</text><text class="op" x="881" y="1472" style="font-size:10px">+templateMethod()</text></g>
<g id="n15-concreteclass" class="cls r"><rect x="886" y="1503" width="74" height="32"/><line x1="886" y1="1521" x2="960" y2="1521"/><line x1="886" y1="1528" x2="960" y2="1528"/><text class="cn" x="923" y="1516" style="font-size:11px" textLength="68" lengthAdjust="spacingAndGlyphs">ConcreteClass</text></g>
<!-- 16 Visitor -->
<g id="n16-visitor" class="cls r"><rect x="154" y="1749" width="196" height="40"/><line x1="154" y1="1765" x2="350" y2="1765"/><line x1="154" y1="1772" x2="350" y2="1772"/><text class="cn ab" x="252" y="1761">Visitor</text><text class="op" x="156" y="1783" textLength="190" lengthAdjust="spacingAndGlyphs">+VisitConcreateElement(elem: ConcreteElement)</text></g>
<g id="n16-concretevisitor" class="cls r"><rect x="207" y="1812" width="72" height="29"/><line x1="207" y1="1828" x2="279" y2="1828"/><line x1="207" y1="1834" x2="279" y2="1834"/><text class="cn" x="243" y="1824" textLength="66" lengthAdjust="spacingAndGlyphs">ConcreteVisitor</text></g>
<g id="n16-objectstruture" class="cls r"><rect x="107" y="1860" width="68" height="28"/><line x1="107" y1="1875" x2="175" y2="1875"/><line x1="107" y1="1881" x2="175" y2="1881"/><text class="cn" x="141" y="1871" textLength="62" lengthAdjust="spacingAndGlyphs">ObjectStruture</text></g>
<g id="n16-element" class="cls r"><rect x="206" y="1856" width="78" height="40"/><line x1="206" y1="1873" x2="284" y2="1873"/><line x1="206" y1="1880" x2="284" y2="1880"/><text class="cn ab" x="245" y="1868">Element</text><text class="op" x="208" y="1891" textLength="73" lengthAdjust="spacingAndGlyphs">+Accept(v: Visitor)</text></g>
<g id="n16-concreateelement" class="cls r"><rect x="206" y="1927" width="82" height="29"/><line x1="206" y1="1943" x2="288" y2="1943"/><line x1="206" y1="1949" x2="288" y2="1949"/><text class="cn" x="247" y="1939" textLength="76" lengthAdjust="spacingAndGlyphs">ConcreateElement</text></g>
<!-- 17 Adapter -->
<g id="n17-client" class="cls y"><rect x="459" y="1751" width="50" height="29"/><line x1="459" y1="1768" x2="509" y2="1768"/><line x1="459" y1="1774" x2="509" y2="1774"/><text class="cn" x="484" y="1763">Client</text></g>
<g id="n17-target" class="cls y"><rect x="531" y="1750" width="50" height="40"/><line x1="531" y1="1767" x2="581" y2="1767"/><line x1="531" y1="1773" x2="581" y2="1773"/><text class="cn ab" x="556" y="1762">Target</text><text class="op" x="533" y="1785">+Request()</text></g>
<g id="n17-adapter" class="cls y"><rect x="531" y="1818" width="50" height="29"/><line x1="531" y1="1833" x2="581" y2="1833"/><line x1="531" y1="1840" x2="581" y2="1840"/><text class="cn" x="556" y="1829">Adapter</text></g>
<g id="n17-adaptee" class="cls y"><rect x="623" y="1816" width="76" height="40"/><line x1="623" y1="1832" x2="699" y2="1832"/><line x1="623" y1="1839" x2="699" y2="1839"/><text class="cn" x="661" y="1828">Adaptee</text><text class="op" x="625" y="1851" textLength="71" lengthAdjust="spacingAndGlyphs">+SpecificRequest()</text></g>
<!-- 18 Composite -->
<g id="n18-component" class="cls y"><rect x="883" y="1751" width="140" height="72"/><line x1="883" y1="1768" x2="1023" y2="1768"/><line x1="883" y1="1774" x2="1023" y2="1774"/><text class="cn ab" x="953" y="1763">Component</text><text class="op" x="885" y="1786">+Operation()</text><text class="op" x="885" y="1797">+Add(Parameter1: Component)</text><text class="op" x="885" y="1808" textLength="134" lengthAdjust="spacingAndGlyphs">+Remove(Parameter1: Component)</text><text class="op" x="885" y="1819">+GetChild(int)</text></g>
<g id="n18-client" class="cls y"><rect x="804" y="1771" width="49" height="28"/><line x1="804" y1="1787" x2="853" y2="1787"/><line x1="804" y1="1793" x2="853" y2="1793"/><text class="cn" x="828.5" y="1783">Client</text></g>
<g id="n18-leaf" class="cls y"><rect x="839" y="1870" width="50" height="28"/><line x1="839" y1="1885" x2="889" y2="1885"/><line x1="839" y1="1891" x2="889" y2="1891"/><text class="cn" x="864" y="1881">Leaf</text></g>
<g id="n18-composite" class="cls y"><rect x="995" y="1873" width="51" height="29"/><line x1="995" y1="1889" x2="1046" y2="1889"/><line x1="995" y1="1895" x2="1046" y2="1895"/><text class="cn" x="1020.5" y="1885" textLength="45" lengthAdjust="spacingAndGlyphs">Composite</text></g>
<!-- 19 Proxy -->
<g id="n19-subject" class="cls y"><rect x="209" y="2161" width="58" height="47"/><line x1="209" y1="2182" x2="267" y2="2182"/><line x1="209" y1="2188" x2="267" y2="2188"/><text class="cn ab" x="238" y="2176" style="font-size:12px">Subject</text><text class="op" x="211" y="2201" style="font-size:10px">+Request()</text></g>
<g id="n19-realsubject" class="cls y"><rect x="144" y="2258" width="64" height="34"/><line x1="144" y1="2277" x2="208" y2="2277"/><line x1="144" y1="2284" x2="208" y2="2284"/><text class="cn" x="176" y="2272" style="font-size:11px" textLength="58" lengthAdjust="spacingAndGlyphs">RealSubject</text></g>
<g id="n19-proxy" class="cls y"><rect x="268" y="2256" width="58" height="33"/><line x1="268" y1="2274" x2="326" y2="2274"/><line x1="268" y1="2281" x2="326" y2="2281"/><text class="cn" x="297" y="2270" style="font-size:11px">Proxy</text></g>
<!-- 20 Bridge -->
<g id="n20-abstraction" class="cls y"><rect x="496" y="2161" width="57" height="42"/><line x1="496" y1="2178" x2="553" y2="2178"/><line x1="496" y1="2184" x2="553" y2="2184"/><text class="cn ab" x="524.5" y="2173" textLength="51" lengthAdjust="spacingAndGlyphs">Abstraction</text><text class="op" x="498" y="2196">+Operation()</text></g>
<g id="n20-implementor" class="cls y"><rect x="600" y="2161" width="73" height="42"/><line x1="600" y1="2178" x2="673" y2="2178"/><line x1="600" y1="2184" x2="673" y2="2184"/><text class="cn ab" x="636.5" y="2173">Implementor</text><text class="op" x="602" y="2196">+OperationImp()</text></g>
<g id="n20-refinedabstraction" class="cls y"><rect x="475" y="2227" width="91" height="30"/><line x1="475" y1="2244" x2="566" y2="2244"/><line x1="475" y1="2250" x2="566" y2="2250"/><text class="cn" x="520.5" y="2239" textLength="85" lengthAdjust="spacingAndGlyphs">RefinedAbstraction</text></g>
<g id="n20-concreteimplementor" class="cls y"><rect x="585" y="2227" width="103" height="30"/><line x1="585" y1="2244" x2="688" y2="2244"/><line x1="585" y1="2250" x2="688" y2="2250"/><text class="cn" x="636.5" y="2239" textLength="97" lengthAdjust="spacingAndGlyphs">ConcreteImplementor</text></g>
<!-- 21 Decorator -->
<g id="n21-component" class="cls y"><rect x="905" y="2160" width="55" height="42"/><line x1="905" y1="2178" x2="960" y2="2178"/><line x1="905" y1="2184" x2="960" y2="2184"/><text class="cn ab" x="932.5" y="2172">Component</text><text class="op" x="907" y="2196">+Operation()</text></g>
<g id="n21-concreatecomponent" class="cls y"><rect x="817" y="2254" width="98" height="30"/><line x1="817" y1="2270" x2="915" y2="2270"/><line x1="817" y1="2276" x2="915" y2="2276"/><text class="cn" x="866" y="2266" textLength="92" lengthAdjust="spacingAndGlyphs">ConcreateComponent</text></g>
<g id="n21-decorator" class="cls y"><rect x="975" y="2254" width="50" height="30"/><line x1="975" y1="2270" x2="1025" y2="2270"/><line x1="975" y1="2276" x2="1025" y2="2276"/><text class="cn" x="1000" y="2266" textLength="45" lengthAdjust="spacingAndGlyphs">Decorator</text></g>
<g id="n21-concretedecorator" class="cls y"><rect x="955" y="2312" width="87" height="29"/><line x1="955" y1="2328" x2="1042" y2="2328"/><line x1="955" y1="2334" x2="1042" y2="2334"/><text class="cn" x="998.5" y="2324" textLength="81" lengthAdjust="spacingAndGlyphs">ConcreteDecorator</text></g>
<!-- 22 Facade -->
<g id="n22-facade" class="cls y"><rect x="211" y="2534" width="66" height="37"/><line x1="211" y1="2555" x2="277" y2="2555"/><line x1="211" y1="2563" x2="277" y2="2563"/><text class="cn" x="244" y="2549" style="font-size:13px">Facade</text></g>
<g id="n22-subsystem" class="cls y"><rect x="184" y="2611" width="112" height="37"/><line x1="184" y1="2632" x2="296" y2="2632"/><line x1="184" y1="2640" x2="296" y2="2640"/><text class="cn" x="240" y="2626" style="font-size:13px" textLength="104" lengthAdjust="spacingAndGlyphs">Subsystem Classes</text></g>
<!-- 23 Flyweight -->
<g id="n23-flyweightfactory" class="cls y"><rect x="466" y="2536" width="74" height="37"/><line x1="466" y1="2552" x2="540" y2="2552"/><line x1="466" y1="2558" x2="540" y2="2558"/><text class="cn" x="503" y="2548" textLength="68" lengthAdjust="spacingAndGlyphs">FlyweightFactory</text><text class="op" x="468" y="2569" textLength="70" lengthAdjust="spacingAndGlyphs">+GetFlyweight(key)</text></g>
<g id="n23-flyweight" class="cls y"><rect x="580" y="2536" width="50" height="37"/><line x1="580" y1="2552" x2="630" y2="2552"/><line x1="580" y1="2558" x2="630" y2="2558"/><text class="cn ab" x="605" y="2548">Flyweight</text><text class="op" x="582" y="2569">+Operation()</text></g>
<g id="n23-concreteflyweight" class="cls y"><rect x="503" y="2608" width="80" height="26"/><line x1="503" y1="2622" x2="583" y2="2622"/><line x1="503" y1="2628" x2="583" y2="2628"/><text class="cn" x="543" y="2619" textLength="74" lengthAdjust="spacingAndGlyphs">ConcreteFlyweight</text></g>
<g id="n23-unsharedconcreteflyweight" class="cls y"><rect x="601" y="2610" width="116" height="27"/><line x1="601" y1="2624" x2="717" y2="2624"/><line x1="601" y1="2630" x2="717" y2="2630"/><text class="cn" x="659" y="2621" textLength="110" lengthAdjust="spacingAndGlyphs">unsharedConcreteFlyweight</text></g>
<g id="n23-client" class="cls y"><rect x="459" y="2645" width="47" height="27"/><line x1="459" y1="2660" x2="506" y2="2660"/><line x1="459" y1="2666" x2="506" y2="2666"/><text class="cn" x="482.5" y="2656">Client</text></g>

<!-- ================= CONNECTORS ================= -->
<g id="connectors">
<!-- 1 -->
<path class="c a" d="M224,96 V79 H306 V122 H282"/>
<text class="lbl" x="284" y="137" style="font-size:9px;text-decoration:underline">-instance</text>
<!-- 2 -->
<path class="c t" d="M522,141 V119"/>
<path class="c t" d="M620,140 V108"/>
<path class="c d a" d="M563,155 H583"/>
<!-- 3 -->
<path class="c a" d="M923,106 V117 H875 V130"/>
<path class="c a" d="M923,117 H966 V130"/>
<path class="c t" d="M875,191 V168"/>
<path class="c t" d="M966,191 V158"/>
<path class="c d a" d="M912,203 H934"/>
<!-- 4 -->
<path class="c dm a" d="M191,407 H223"/>
<text class="lbl" x="194" y="402" style="font-size:7px">+builder</text>
<path class="c t" d="M247,450 V429"/>
<path class="c d a" d="M290,463 H307"/>
<!-- 5 -->
<path class="c a" d="M552,406 H593"/>
<text class="lbl" x="554" y="401" style="font-size:7px">+prototype</text>
<path class="c t" d="M618,458 V435"/>
<!-- 6 -->
<path class="c t" d="M869,483 V456"/>
<path class="c t" d="M986,484 V463"/>
<path class="c d a" d="M913,492 H947"/>
<path class="c d a" d="M947,503 H913"/>
<!-- 7 -->
<path class="c dm a" d="M269,719 H294"/>
<path class="c a" d="M164,735 V758 H206"/>
<path class="c a" d="M164,758 V816 H262"/>
<path class="c a" d="M296,803 V774 H259"/>
<text class="lbl" x="265" y="791" style="font-size:7px">+receiver</text>
<path class="c t" d="M320,803 V744"/>
<!-- 8 -->
<path class="c a" d="M523,732 H542 V708 H565"/>
<path class="c a" d="M523,749 H546"/>
<path class="c" d="M528,813 V802 H641 V813"/>
<path class="c t" d="M581,802 V777"/>
<path class="c dm a" d="M663,813 V756 H621"/>
<!-- 9 -->
<path class="c a" d="M881,732 H907"/>
<path class="c a" d="M948,717 V704 H1007 V739 H986"/>
<text class="lbl" x="988" y="754" style="font-size:7px">+successor</text>
<path class="c t" d="M944,787 V762"/>
<!-- 10 -->
<path class="c a" d="M235,1087 H270"/>
<text class="lbl" x="238" y="1081" style="font-size:7px">+subject</text>
<path class="c t" d="M194,1166 V1136"/>
<path class="c t" d="M294,1166 V1113"/>
<!-- 11 -->
<path class="c a" d="M620,1094 H571"/>
<text class="lbl" x="575" y="1108" style="font-size:8.5px">+mediator</text>
<path class="c t" d="M541,1137 V1113"/>
<!-- 12 -->
<path class="c d a" d="M912,1089 H932"/>
<path class="c dm a" d="M1011,1089 H976"/>
<text class="lbl" x="978" y="1099" style="font-size:6.5px">+memento</text>
<!-- 13 -->
<path class="c dm a" d="M202,1438 H244"/>
<text class="lbl" x="219" y="1432" style="font-size:7px">+state</text>
<path class="c t" d="M270,1492 V1461"/>
<!-- 14 -->
<path class="c dm a" d="M559,1439 H597"/>
<text class="lbl" x="562" y="1433" style="font-size:7px">+strategy</text>
<path class="c t" d="M639,1483 V1459"/>
<!-- 15 -->
<path class="c t" d="M922,1503 V1478"/>
<!-- 16 -->
<path class="c t" d="M246,1812 V1789"/>
<path class="c a" d="M175,1873 H206"/>
<text class="lbl" x="192" y="1885" style="font-size:8px">*</text>
<path class="c d a" d="M284,1874 H307 V1789"/>
<path class="c t" d="M246,1927 V1896"/>
<!-- 17 -->
<path class="c a" d="M509,1762 H531"/>
<path class="c t" d="M556,1818 V1790"/>
<path class="c a" d="M581,1830 H623"/>
<text class="lbl" x="588" y="1825" style="font-size:7px">+adaptee</text>
<!-- 18 -->
<path class="c a" d="M853,1786 H883"/>
<path class="c" d="M864,1870 V1843 H1015 V1873"/>
<path class="c t" d="M941,1843 V1823"/>
<path class="c dm a" d="M1035,1873 V1782 H1023"/>
<text class="lbl" x="1037" y="1777" style="font-size:8px">*</text>
<!-- 19 -->
<path class="c" d="M177,2258 V2235 H297 V2256"/>
<path class="c t" d="M238,2235 V2208"/>
<path class="c a" d="M268,2273 H208"/>
<text class="lbl" x="212" y="2287" style="font-size:7px">+RealSubject</text>
<!-- 20 -->
<path class="c dm a" d="M553,2174 H600"/>
<text class="lbl" x="579" y="2167" style="font-size:7px">+imp</text>
<path class="c t" d="M522,2227 V2203"/>
<path class="c t" d="M636,2227 V2203"/>
<!-- 21 -->
<path class="c" d="M859,2254 V2228 H999 V2254"/>
<path class="c t" d="M932,2228 V2202"/>
<path class="c dm a" d="M1015,2254 V2182 H960"/>
<text class="lbl" x="963" y="2193" style="font-size:6.5px">+component</text>
<path class="c t" d="M998,2312 V2284"/>
<!-- 22 -->
<path class="c a" d="M240,2571 V2611"/>
<!-- 23 -->
<path class="c dm a" d="M540,2553 H580"/>
<text class="lbl" x="545" y="2547" style="font-size:6.5px">+flyweights</text>
<text class="lbl" x="567" y="2564" style="font-size:8px">*</text>
<path class="c" d="M557,2608 V2598 H668 V2610"/>
<path class="c t" d="M606,2598 V2573"/>
<path class="c a" d="M480,2645 V2573"/>
<path class="c a" d="M506,2652 H554 V2634"/>
<path class="c a" d="M506,2664 H673 V2637"/>
</g>
</svg>
